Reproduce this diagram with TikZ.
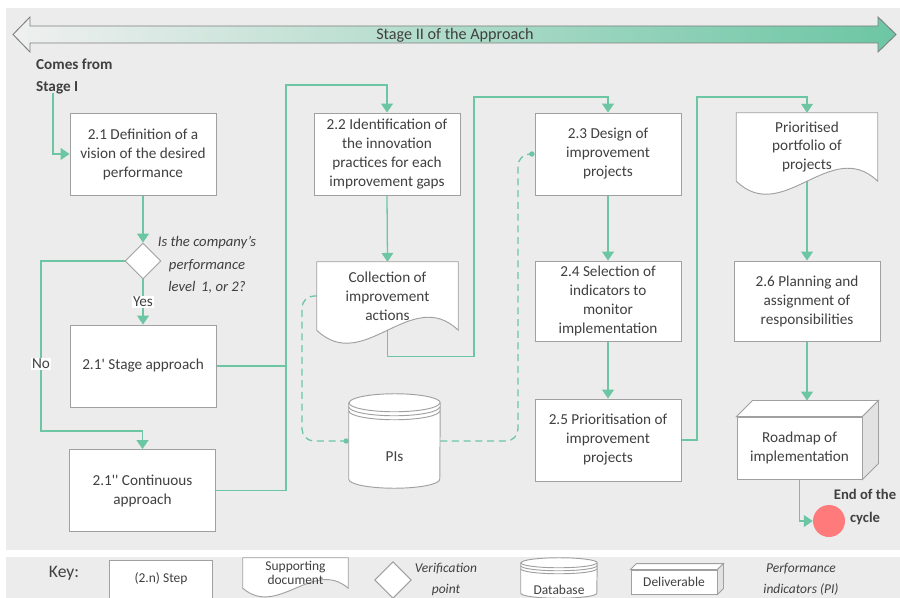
\documentclass[tikz,border=0pt]{standalone}
\usepackage{fontspec}
\setmainfont{Carlito}
\usetikzlibrary{arrows.meta,shapes.geometric,calc,backgrounds}
\definecolor{flowgreen}{RGB}{108,198,164}
\definecolor{panel}{RGB}{236,236,236}
\definecolor{edge}{RGB}{160,160,160}
\definecolor{ink}{RGB}{64,64,64}
\definecolor{sidegray}{RGB}{226,226,226}
\definecolor{stopred}{RGB}{255,123,123}

\begin{document}
\begin{tikzpicture}[x=0.03cm, y=-0.03cm, font=\fontsize{13}{16.2}\selectfont, text=ink,
	step box/.style={draw=edge, fill=white, line width=0.8pt, minimum width=4.38cm, minimum height=2.46cm, align=center, inner sep=1pt},
	doc box/.style={minimum width=4.23cm, minimum height=2.04cm, align=center, inner sep=1pt},
	db box/.style={minimum width=2.73cm, minimum height=2.82cm, inner sep=0pt, text height=0pt, text depth=0pt},
	deliv box/.style={draw=edge, fill=white, line width=0.8pt, minimum width=3.75cm, minimum height=1.86cm, align=center, inner sep=1pt},
	check/.style={diamond, aspect=1, draw=edge, fill=white, line width=0.8pt, minimum size=1.08cm, inner sep=0pt},
	outline/.style={draw=edge, fill=white, line width=0.8pt},
	flow/.style={draw=flowgreen, line width=1.1pt, -{Triangle[width=10pt,length=7.5pt]}},
	link/.style={draw=flowgreen, line width=1.1pt},
	dash link/.style={draw=flowgreen, line width=1.1pt, dash pattern=on 6pt off 4pt, rounded corners=0.36cm, -{Circle[length=4.5pt]}},
	tag/.style={fill=white, inner sep=1pt},
	key text/.style={font=\fontsize{11.5}{12}\selectfont, align=center}]
	\useasboundingbox (0,0) rectangle (900,598);
	\begin{pgfonlayer}{background}
	\fill[white] (0,0) rectangle (900,598);
	\fill[panel] (6,8) rectangle (900,550);
	\fill[panel] (6,557) rectangle (900,598);
	\end{pgfonlayer}
	% banner
	\path[left color=white!94!black, right color=flowgreen, draw=gray, line width=0.8pt]
	(13,34.5) -- (30,17) -- (30,26) -- (878,26) -- (878,17) -- (896,34.5) -- (878,52) -- (878,43) -- (30,43) -- (30,52) -- cycle;
	\node[font=\fontsize{13.8}{16}\selectfont] (banner) at (455,35) {Stage II of the Approach};
	\node[font=\bfseries\fontsize{13}{19}\selectfont, align=left, anchor=north west] (from) at (32,55) {Comes from\\Stage I};
	\coordinate (fromend) at (53,93);
	% steps
	\node[step box] (s21) at (143,154) {2.1 Definition of a\\vision of the desired\\performance};
	\node[check] (dia) at (143,261) {};
	\node[font=\itshape\fontsize{12.5}{19}\selectfont, align=center] (q) at (207,265) {Is the company's\\performance\\level\, 1, or 2?};
	\node[step box] (s21a) at (143,366) {2.1\textquotesingle{} Stage approach};
	\node[step box] (s21b) at (142.5,490.5) {2.1\textquotesingle\textquotesingle{} Continuous\\approach};
	\node[step box] (s22) at (387,154) {2.2 Identification of\\the innovation\\practices for each\\improvement gaps};
	\node[doc box] (d1) at (387.5,296) {Collection of\\improvement\\actions};
	\node[db box] (pis) at (394.5,441) {\raisebox{-0.6cm}{PIs}};
	\node[step box] (s23) at (608,154) {2.3 Design of\\improvement\\projects};
	\node[step box, minimum height=2.4cm] (s24) at (608,301) {2.4 Selection of\\indicators to\\monitor\\implementation};
	\node[step box] (s25) at (608,440) {2.5 Prioritisation of\\improvement\\projects};
	\node[doc box] (d2) at (807,147) {Prioritised\\portfolio of\\projects};
	\node[step box, minimum height=2.4cm] (s26) at (807,301) {2.6 Planning and\\assignment of\\responsibilities};
	\node[deliv box] (rd) at (799.5,448) {Roadmap of\\implementation};
	\coordinate (rdtop) at ($(rd.north)+(0,-16)$);
	\node[circle, fill=stopred, minimum size=0.96cm, inner sep=0pt] (eoc) at (829,521) {};
	\node[font=\bfseries\fontsize{12.5}{20}\selectfont, align=center] (eoclabel) at (865,507) {End of the\\cycle};
	\node[tag] (no) at (41,364) {No};
	% key
	\node[font=\fontsize{15}{18}\selectfont] (key) at (64,573) {Key:};
	\node[step box, key text, minimum width=3.09cm, minimum height=1.14cm] (kstep) at (161,579) {(2.n) Step};
	\node[doc box, key text, minimum width=3.15cm, minimum height=0.9cm] (kdoc) at (295.5,573) {Supporting\\document};
	\node[check, minimum size=1.1cm] (kdia) at (393,580) {};
	\node[key text, font=\itshape\fontsize{11.5}{18}\selectfont] (kver) at (446,579) {Verification\\point};
	\node[db box, key text, minimum width=2.28cm, minimum height=1.2cm] (kdb) at (559,578) {\raisebox{-0.48cm}{Database}};
	\node[deliv box, key text, minimum width=2.58cm, minimum height=0.72cm] (kdel) at (674,582) {Deliverable};
	\node[key text, font=\itshape\fontsize{11.5}{18}\selectfont] (kpi) at (801,579) {Performance\\indicators (PI)};
	\begin{pgfonlayer}{background}
	% connectors
	\draw[flow] (fromend) |- (s21.west);
	\draw[flow] (s21.south) -- (dia.north);
	\draw[flow] (dia.south) -- node[tag] (yes) {Yes} (s21a.north);
	\draw[flow] (dia.west) -| (41,431) -| (s21b.north);
	\coordinate (merge) at (286,85);
	\draw[link] (s21a.east) -- (s21a.east -| merge);
	\draw[flow] (s21b.east) -| (merge) -| (s22.north);
	\draw[flow] (s22.south) -- (d1.north);
	\draw[flow] (d1.south) -- ++(0,26) -| (474,97) -| (s23.north);
	\draw[flow] (s23.south) -- (s24.north);
	\draw[flow] (s24.south) -- (s25.north);
	\draw[flow] (s25.east) -| (697,97) -| (d2.north);
	\draw[flow] (d2.south) -- (s26.north);
	\draw[flow] (s26.south) -- (s26.south |- rdtop);
	\draw[flow] (rd.south) |- (eoc.west);
	\draw[dash link] (d1.west) -| (302,441) -- (pis.west);
	\draw[dash link] (pis.east) -| (518,154) -- (s23.west);
	% document outlines
	\foreach \n/\a in {d1/45, d2/45, kdoc/30}{
		\draw[outline] (\n.south west) -- (\n.north west) -- (\n.north east) -- (\n.south east)
		.. controls ($(\n.south east)!0.33!(\n.south west)+(0,-\a)$) and ($(\n.south east)!0.67!(\n.south west)+(0,\a)$) .. (\n.south west) -- cycle;
	}
	% database outlines
	\foreach \n/\r/\w/\g in {pis/9/45.5/4, kdb/5/38/3}{
		\draw[outline] ($(\n.north west)+(0,\r)$) -- ($(\n.south west)+(0,-\r)$)
		arc[start angle=180, end angle=0, x radius=\w, y radius=\r]
		-- ($(\n.north east)+(0,\r)$) arc[start angle=0, end angle=-180, x radius=\w, y radius=\r] -- cycle;
		\draw[draw=edge, line width=0.8pt] ($(\n.north west)+(0,\r)$) arc[start angle=180, end angle=0, x radius=\w, y radius=\r];
		\draw[draw=edge, line width=0.8pt] ($(\n.north west)+(0,\r+\g)$) arc[start angle=180, end angle=0, x radius=\w, y radius=\r];
		\draw[draw=edge, line width=0.8pt] ($(\n.north west)+(0,\r+2*\g)$) arc[start angle=180, end angle=0, x radius=\w, y radius=\r];
	}
	% deliverable faces
	\foreach \n/\d in {rd/16, kdel/6}{
		\filldraw[fill=white, draw=edge, line width=0.8pt] (\n.north west) -- ++(\d,-\d) -- ($(\n.north east)+(\d,-\d)$) -- (\n.north east) -- cycle;
		\filldraw[fill=sidegray, draw=edge, line width=0.8pt] (\n.north east) -- ++(\d,-\d) -- ($(\n.south east)+(\d,-\d)$) -- (\n.south east) -- cycle;
	}
	\end{pgfonlayer}
\end{tikzpicture}
\end{document}
